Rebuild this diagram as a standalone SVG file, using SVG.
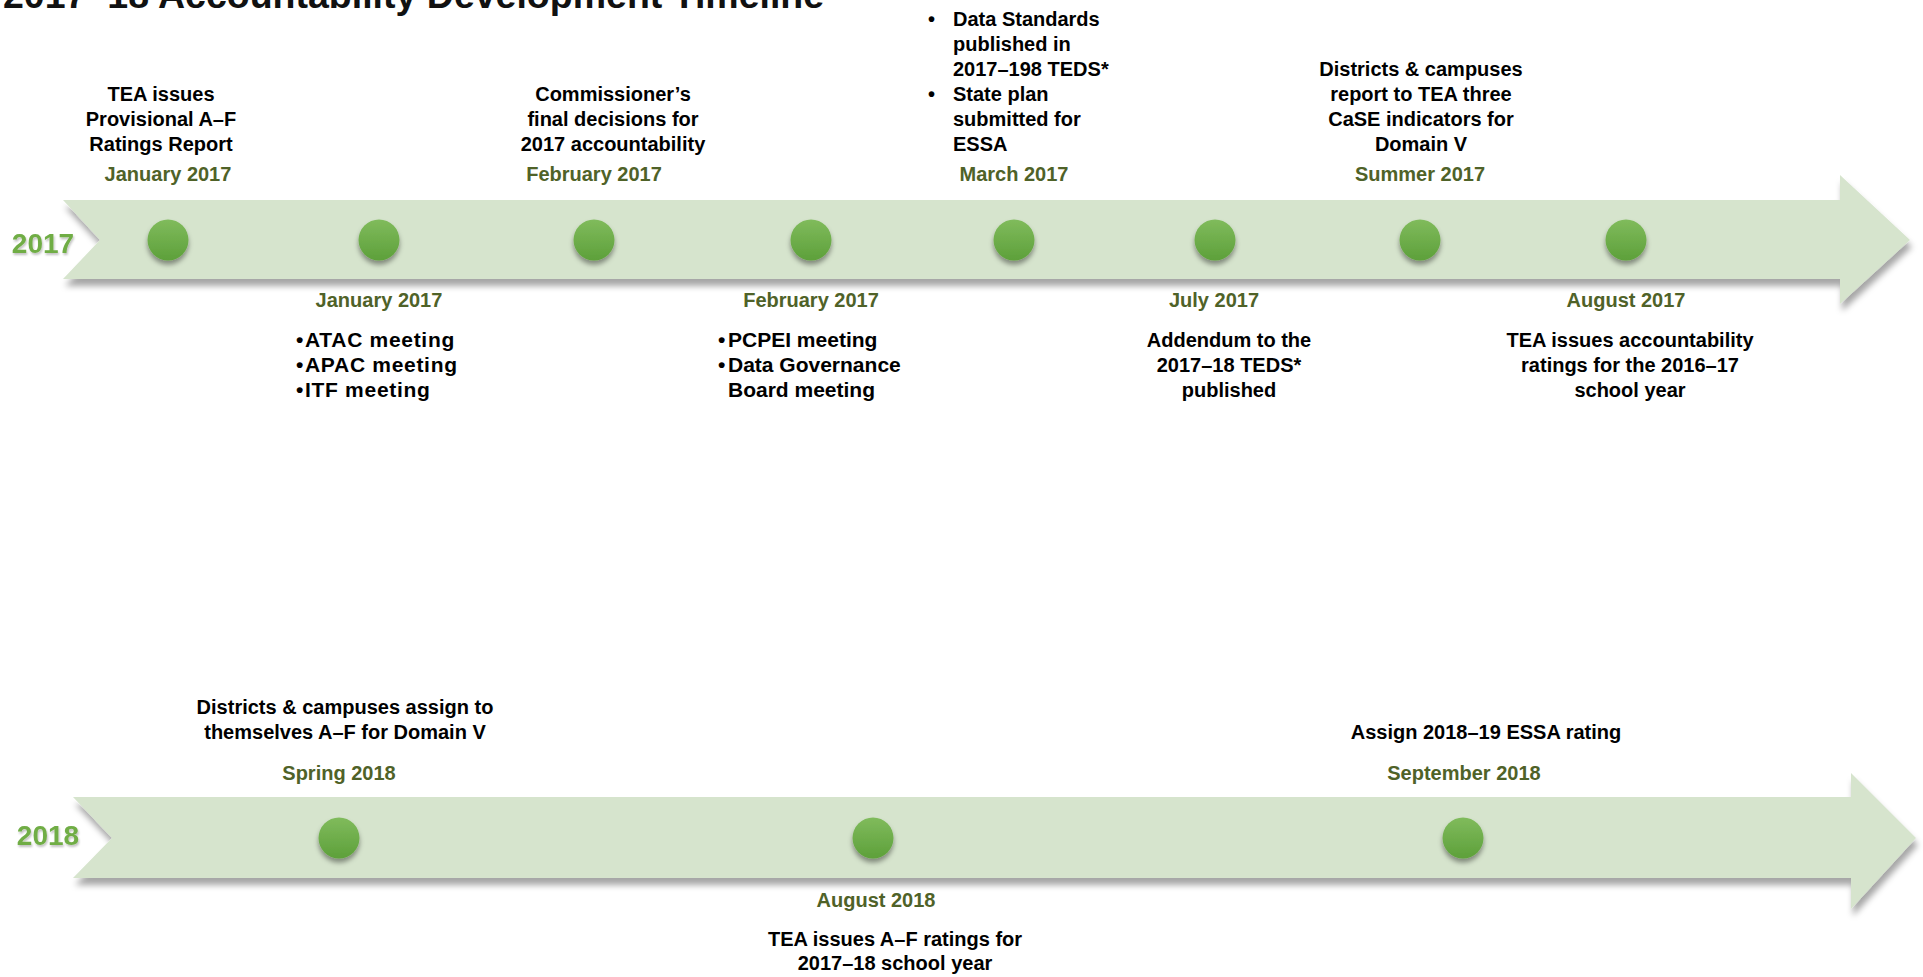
<svg xmlns="http://www.w3.org/2000/svg" width="1923" height="977" viewBox="0 0 1923 977">
  <defs>
    <filter id="barShadow" x="-5%" y="-30%" width="110%" height="170%">
      <feDropShadow dx="2" dy="7" stdDeviation="3" flood-color="#000" flood-opacity="0.35"/>
    </filter>
    <filter id="dotShadow" x="-50%" y="-50%" width="200%" height="220%">
      <feDropShadow dx="0" dy="4" stdDeviation="2.5" flood-color="#000" flood-opacity="0.4"/>
    </filter>
    <filter id="yearShadow" x="-20%" y="-20%" width="140%" height="160%">
      <feDropShadow dx="1" dy="2" stdDeviation="1" flood-color="#000" flood-opacity="0.25"/>
    </filter>
    <linearGradient id="dotGrad" x1="0" y1="0" x2="0" y2="1">
      <stop offset="0" stop-color="#80bb5c"/>
      <stop offset="1" stop-color="#5da03a"/>
    </linearGradient>
  </defs>
  <style>
    text { font-family: "Liberation Sans", Arial, sans-serif; font-weight: bold; }
    .title { font-size: 37.5px; fill: #111; }
    .desc { font-size: 20px; fill: #000; }
    .list { font-size: 21px; fill: #000; }
    .wide { letter-spacing: 0.7px; }
    .c { text-anchor: middle; }
    .date { font-size: 20px; fill: #4f6228; text-anchor: middle; }
    .year { font-size: 28px; fill: #6fad45; text-anchor: middle; filter: url(#yearShadow); }
    .bar { fill: #d6e4cd; filter: url(#barShadow); }
    .dot { fill: url(#dotGrad); filter: url(#dotShadow); }
  </style>
  <rect width="1923" height="977" fill="#fff"/>

  <text class="title" x="3" y="8">2017–18 Accountability Development Timeline</text>

  <g id="connectors">
    <path id="timeline-2017" class="bar" d="M63,200 L1840,200 L1840,175 L1910,240 L1840,304 L1840,279 L63,279 L100,240 Z"/>
    <path id="timeline-2018" class="bar" d="M73,797 L1851,797 L1851,773 L1916,838 L1851,909 L1851,878 L73,878 L112,838 Z"/>
  </g>

  <g id="year-2017"><text class="year" x="43" y="253">2017</text></g>
  <g id="year-2018"><text class="year" x="48" y="845">2018</text></g>

  <!-- 2017 row -->
  <g id="ev-jan2017-a">
    <text class="desc c" x="161" y="101">TEA issues</text>
    <text class="desc c" x="161" y="126">Provisional A–F</text>
    <text class="desc c" x="161" y="151">Ratings Report</text>
    <text class="date" x="168" y="181">January 2017</text>
    <circle class="dot" cx="168" cy="240" r="20.5"/>
  </g>
  <g id="ev-jan2017-b">
    <circle class="dot" cx="379" cy="240" r="20.5"/>
    <text class="date" x="379" y="307">January 2017</text>
    <text class="list" x="296" y="347">•</text><text class="list wide" x="305" y="347">ATAC meeting</text>
    <text class="list" x="296" y="372">•</text><text class="list wide" x="305" y="372">APAC meeting</text>
    <text class="list" x="296" y="397">•</text><text class="list wide" x="305" y="397">ITF meeting</text>
  </g>
  <g id="ev-feb2017-a">
    <text class="desc c" x="613" y="101">Commissioner’s</text>
    <text class="desc c" x="613" y="126">final decisions for</text>
    <text class="desc c" x="613" y="151">2017 accountability</text>
    <text class="date" x="594" y="181">February 2017</text>
    <circle class="dot" cx="594" cy="240" r="20.5"/>
  </g>
  <g id="ev-feb2017-b">
    <circle class="dot" cx="811" cy="240" r="20.5"/>
    <text class="date" x="811" y="307">February 2017</text>
    <text class="list" x="718" y="347">•</text><text class="list" x="728" y="347">PCPEI meeting</text>
    <text class="list" x="718" y="372">•</text><text class="list" x="728" y="372">Data Governance</text>
    <text class="list" x="728" y="397">Board meeting</text>
  </g>
  <g id="ev-mar2017">
    <text class="desc" x="928" y="26">•</text><text class="desc" x="953" y="26">Data Standards</text>
    <text class="desc" x="953" y="51">published in</text>
    <text class="desc" x="953" y="76">2017–198 TEDS*</text>
    <text class="desc" x="928" y="101">•</text><text class="desc" x="953" y="101">State plan</text>
    <text class="desc" x="953" y="126">submitted for</text>
    <text class="desc" x="953" y="151">ESSA</text>
    <text class="date" x="1014" y="181">March 2017</text>
    <circle class="dot" cx="1014" cy="240" r="20.5"/>
  </g>
  <g id="ev-jul2017">
    <circle class="dot" cx="1215" cy="240" r="20.5"/>
    <text class="date" x="1214" y="307">July 2017</text>
    <text class="desc c" x="1229" y="347">Addendum to the</text>
    <text class="desc c" x="1229" y="372">2017–18 TEDS*</text>
    <text class="desc c" x="1229" y="397">published</text>
  </g>
  <g id="ev-summer2017">
    <text class="desc c" x="1421" y="76">Districts &amp; campuses</text>
    <text class="desc c" x="1421" y="101">report to TEA three</text>
    <text class="desc c" x="1421" y="126">CaSE indicators for</text>
    <text class="desc c" x="1421" y="151">Domain V</text>
    <text class="date" x="1420" y="181">Summer 2017</text>
    <circle class="dot" cx="1420" cy="240" r="20.5"/>
  </g>
  <g id="ev-aug2017">
    <circle class="dot" cx="1626" cy="240" r="20.5"/>
    <text class="date" x="1626" y="307">August 2017</text>
    <text class="desc c" x="1630" y="347">TEA issues accountability</text>
    <text class="desc c" x="1630" y="372">ratings for the 2016–17</text>
    <text class="desc c" x="1630" y="397">school year</text>
  </g>

  <!-- 2018 row -->
  <g id="ev-spring2018">
    <text class="desc c" x="345" y="714">Districts &amp; campuses assign to</text>
    <text class="desc c" x="345" y="739">themselves A–F for Domain V</text>
    <text class="date" x="339" y="780">Spring 2018</text>
    <circle class="dot" cx="339" cy="838" r="20.5"/>
  </g>
  <g id="ev-aug2018">
    <circle class="dot" cx="873" cy="838" r="20.5"/>
    <text class="date" x="876" y="907">August 2018</text>
    <text class="desc c" x="895" y="946">TEA issues A–F ratings for</text>
    <text class="desc c" x="895" y="970">2017–18 school year</text>
  </g>
  <g id="ev-sep2018">
    <text class="desc c" x="1486" y="739">Assign 2018–19 ESSA rating</text>
    <text class="date" x="1464" y="780">September 2018</text>
    <circle class="dot" cx="1463" cy="838" r="20.5"/>
  </g>
</svg>
